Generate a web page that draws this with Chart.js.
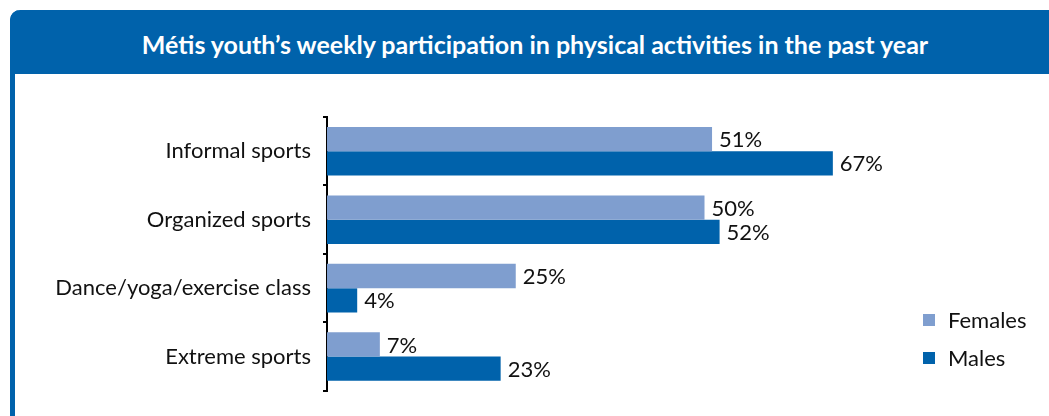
<!DOCTYPE html>
<html>
<head>
  <title>Métis youth physical activities</title>
  <style>
    body {
      margin: 0;
      background: #ffffff;
      font-family: Lato, "Open Sans", sans-serif;
    }
    .wrap {
      position: relative;
      width: 1049px;
      height: 416px;
      overflow: hidden;
    }
    .frame {
      position: absolute;
      left: 10px;
      top: 10px;
      width: 1045px;
      height: 420px;
      border-left: 5px solid #0062ab;
      border-top-left-radius: 10px;
    }
    .header {
      position: absolute;
      left: 10px;
      top: 10px;
      width: 1050px;
      height: 64px;
      line-height: 68px;
      background-color: #0062ab;
      border-top-left-radius: 10px;
      color: #ffffff;
      font-weight: bold;
      font-size: 25px;
      text-align: center;
    }
    canvas {
      position: absolute;
      left: 0;
      top: 0;
    }
  </style>
</head>
<body>
  <div class="wrap">
    <div class="frame"></div>
    <canvas id="chart" width="1049" height="416"></canvas>
    <div class="header">Métis youth’s weekly participation in physical activities in the past year</div>
  </div>

  <script src="https://cdn.jsdelivr.net/npm/chart.js"></script>
  <script>
    const categories = ['Informal sports', 'Organized sports', 'Dance/yoga/exercise class', 'Extreme sports'];
    const females = [51, 50, 25, 7];
    const males = [67, 52, 4, 23];
    const seriesNames = ['Females', 'Males'];
    const colors = ['#7f9ecf', '#0062ab'];

    const FONT = 'Lato, "Open Sans", sans-serif';

    // valeurs en % au bout des barres
    const valueLabels = {
      id: 'valueLabels',
      afterDatasetsDraw(chart) {
        const ctx = chart.ctx;
        ctx.save();
        ctx.font = '22px ' + FONT;
        ctx.fillStyle = '#111111';
        ctx.textBaseline = 'middle';
        ctx.textAlign = 'left';
        chart.data.datasets.forEach((ds, i) => {
          chart.getDatasetMeta(i).data.forEach((bar, j) => {
            ctx.fillText(ds.data[j] + '%', bar.x + 7, bar.y + 1);
          });
        });
        ctx.restore();
      }
    };

    // legende en bas a droite
    const sideLegend = {
      id: 'sideLegend',
      afterDraw(chart) {
        const ctx = chart.ctx;
        ctx.save();
        ctx.font = '22px ' + FONT;
        ctx.textBaseline = 'middle';
        chart.data.datasets.forEach((ds, i) => {
          const y = 320 + i * 38;
          ctx.fillStyle = ds.backgroundColor;
          ctx.fillRect(923, y - 6, 12, 12);
          ctx.fillStyle = '#111111';
          ctx.fillText(ds.label, 948, y + 1);
        });
        ctx.restore();
      }
    };

    new Chart(document.getElementById('chart').getContext('2d'), {
      type: 'bar',
      data: {
        labels: categories,
        datasets: [
          { label: seriesNames[0], data: females, backgroundColor: colors[0] },
          { label: seriesNames[1], data: males, backgroundColor: colors[1] }
        ]
      },
      options: {
        indexAxis: 'y',
        responsive: false,
        animation: false,
        categoryPercentage: 0.71,
        barPercentage: 1.0,
        layout: {
          padding: { top: 117, bottom: 21, left: 0, right: 118 }
        },
        plugins: {
          legend: { display: false },
          tooltip: { enabled: false }
        },
        scales: {
          x: {
            display: false,
            min: 0,
            max: 80
          },
          y: {
            afterFit(scale) { scale.width = 327; },
            border: { display: true, color: '#000000', width: 2 },
            grid: {
              display: true,
              drawOnChartArea: false,
              drawTicks: true,
              tickLength: 4,
              color: '#000000',
              lineWidth: 2
            },
            ticks: {
              color: '#111111',
              padding: 12,
              font: { size: 22, family: FONT }
            }
          }
        }
      },
      plugins: [valueLabels, sideLegend]
    });
  </script>
</body>
</html>
